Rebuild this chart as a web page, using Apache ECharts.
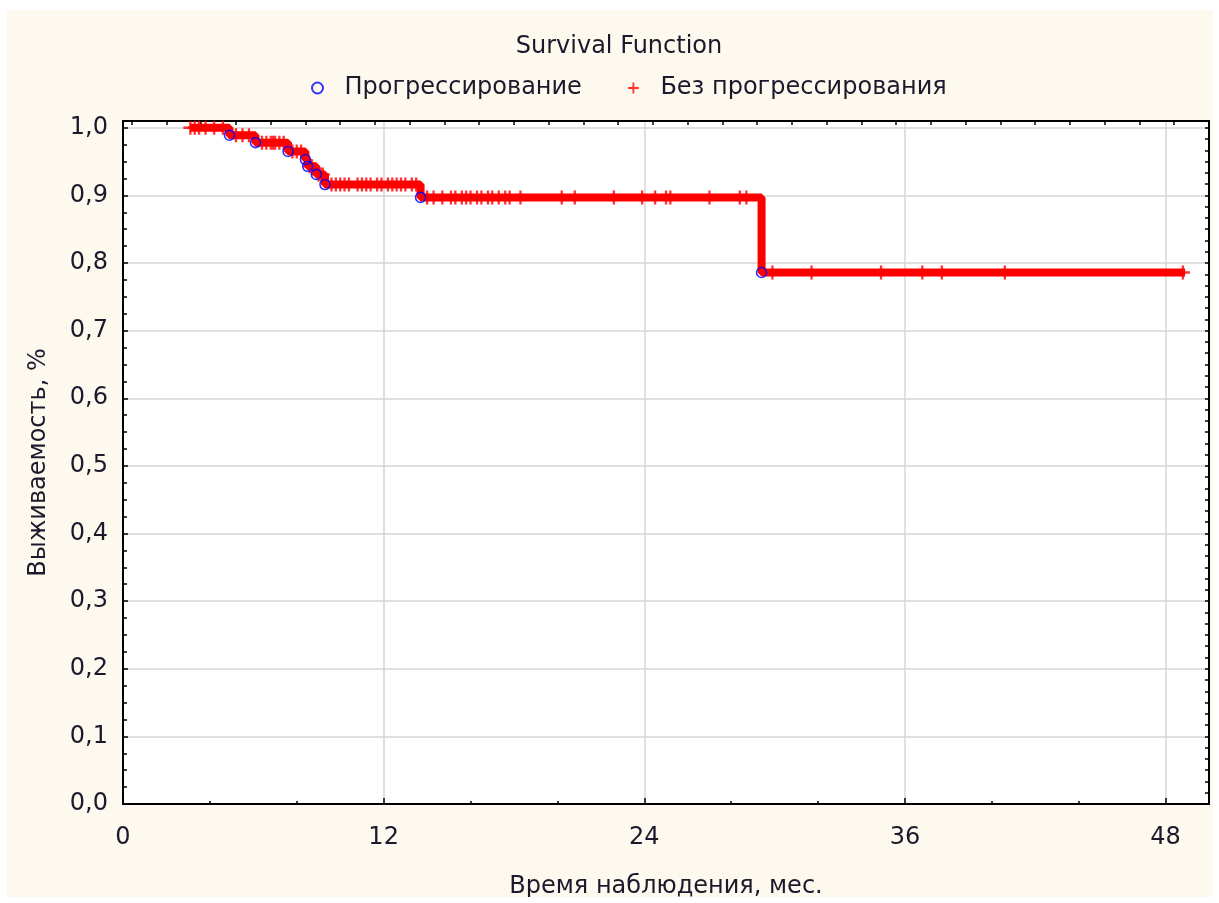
<!DOCTYPE html>
<html>
<head>
<meta charset="utf-8">
<script src="https://cdn.jsdelivr.net/npm/echarts@6/dist/echarts.min.js"></script>
<style>
  html, body { margin: 0; padding: 0; background: #ffffff; }
  #chart { position: absolute; left: 7px; top: 10px; width: 1206px; height: 887px; }
</style>
</head>
<body>
<div id="chart"></div>
<script>
// Kaplan–Meier survival estimate: step times and survival level after each step
const curveTimes = [3.1, 4.9, 6.1, 7.6, 8.4, 8.5, 8.9, 9.3, 13.7, 29.4, 48.9];
const curveSurv  = [1.0, 0.989, 0.978, 0.965, 0.953, 0.943, 0.931, 0.916, 0.897, 0.786, 0.786];

// Progression events (complete observations)
const eventTimes = [4.9, 6.1, 7.6, 8.4, 8.5, 8.9, 9.3, 13.7, 29.4];

// Censored observations (no progression)
const censorTimes = [
  3.1, 3.3, 3.5, 3.8, 4.2, 4.6,
  5.2, 5.5, 5.8,
  6.4, 6.6, 6.8, 6.9, 7.0, 7.2, 7.4,
  7.8, 8.0, 8.2,
  8.6, 8.7, 9.0, 9.1, 9.2,
  9.6, 9.8, 10.0, 10.2, 10.4, 10.8, 11.0, 11.2, 11.4, 11.7, 11.9, 12.2, 12.4, 12.6, 12.8, 13.0, 13.3, 13.5,
  14.0, 14.3, 14.7, 15.1, 15.3, 15.6, 15.8, 16.0, 16.3, 16.5, 16.8, 17.0, 17.3, 17.6, 17.8, 18.3,
  20.2, 20.8, 22.6, 23.9, 24.5, 25.0, 25.2, 27.0, 28.4, 28.7,
  29.9, 31.7, 34.9, 36.8, 37.7, 40.6, 48.8
];

const xTicks = [0, 12, 24, 36, 48];
const yTicks = [0, 0.1, 0.2, 0.3, 0.4, 0.5, 0.6, 0.7, 0.8, 0.9, 1.0];

// survival level of the step function at time t
function survAt(t) {
  let s = curveSurv[0];
  for (let i = 0; i < curveTimes.length; i++) {
    if (curveTimes[i] <= t) s = curveSurv[i];
  }
  return s;
}

const curveData = curveTimes.map((t, i) => [t, curveSurv[i]]);
const eventData = eventTimes.map(t => [t, survAt(t)]);
const censorData = censorTimes.map(t => [t, survAt(t)]);

const plusPath = 'path://M5,0L7,0L7,12L5,12ZM0,5L12,5L12,7L0,7Z';
const textColor = '#1a1a2c';
const fontFamily = '"DejaVu Sans", sans-serif';
const fontSize = 24;

// tick marks along the top and right frame
const topTicks = [];
for (let v = 0.4; v < 50; v += 1.6) topTicks.push(+v.toFixed(2));
const rightTicks = [];
for (let k = 1; k < 61; k++) rightTicks.push(+(k / 60).toFixed(4));

const chart = echarts.init(document.getElementById('chart'));
chart.setOption({
  backgroundColor: '#fdf9ef',
  animation: false,
  textStyle: { fontFamily: fontFamily },
  graphic: [{
    type: 'text',
    x: 612,
    y: 37,
    style: {
      text: 'Survival Function',
      font: fontSize + 'px ' + fontFamily,
      fill: textColor,
      textAlign: 'center',
      textVerticalAlign: 'middle'
    }
  }],
  legend: {
    top: 61,
    left: 299,
    itemWidth: 44,
    itemHeight: 11,
    itemGap: 46,
    data: ['Прогрессирование', 'Без прогрессирования'],
    textStyle: { fontSize: fontSize, color: textColor, fontFamily: fontFamily }
  },
  grid: {
    left: 116, top: 111, right: 4, bottom: 93,
    outerBoundsMode: 'none', containLabel: false,
    show: true, backgroundColor: '#ffffff', borderWidth: 0
  },
  xAxis: [{
    type: 'value',
    position: 'bottom',
    min: 0, max: 50, interval: 12,
    name: 'Время наблюдения, мес.',
    nameLocation: 'middle',
    nameGap: 71,
    nameTextStyle: { fontSize: fontSize, color: textColor, fontFamily: fontFamily },
    axisLine: { show: true, onZero: false, lineStyle: { color: '#000', width: 2 } },
    axisTick: { show: true, inside: true, length: 6, lineStyle: { color: '#000', width: 1.5 } },
    minorTick: { show: true, splitNumber: 3, length: 3, lineStyle: { color: '#000', width: 1.5 } },
    axisLabel: {
      fontSize: fontSize, color: textColor, margin: 22,
      formatter: v => (xTicks.indexOf(v) >= 0 ? String(v) : '')
    },
    splitLine: { show: true, lineStyle: { color: '#d6d6d6', width: 1.5 } }
  }, {
    type: 'value',
    position: 'top',
    min: 0, max: 50,
    axisLine: { show: true, onZero: false, lineStyle: { color: '#000', width: 2 } },
    axisTick: { show: true, inside: true, length: 4, customValues: topTicks, lineStyle: { color: '#000', width: 1.5 } },
    axisLabel: { show: false },
    splitLine: { show: false }
  }],
  yAxis: [{
    type: 'value',
    position: 'left',
    min: 0, max: 1.01, interval: 0.1,
    name: 'Выживаемость, %',
    nameLocation: 'middle',
    nameGap: 72,
    nameTextStyle: { fontSize: fontSize, color: textColor, fontFamily: fontFamily },
    axisLine: { show: true, onZero: false, lineStyle: { color: '#000', width: 2 } },
    axisTick: { show: true, inside: true, length: 5, lineStyle: { color: '#000', width: 1.5 } },
    minorTick: { show: true, splitNumber: 4, length: 4, lineStyle: { color: '#000', width: 1.5 } },
    axisLabel: {
      fontSize: fontSize, color: textColor, margin: 15,
      formatter: v => {
        const hit = yTicks.find(t => Math.abs(t - v) < 1e-6);
        return hit === undefined ? '' : hit.toFixed(1).replace('.', ',');
      }
    },
    splitLine: { show: true, lineStyle: { color: '#d6d6d6', width: 1.5 } }
  }, {
    type: 'value',
    position: 'right',
    min: 0, max: 1.01,
    axisLine: { show: true, onZero: false, lineStyle: { color: '#000', width: 2 } },
    axisTick: { show: true, inside: true, length: 4, customValues: rightTicks, lineStyle: { color: '#000', width: 1.5 } },
    axisLabel: { show: false },
    splitLine: { show: false }
  }],
  series: [{
    name: 'curve',
    type: 'line',
    step: 'end',
    data: curveData,
    showSymbol: false,
    lineStyle: { color: '#ff0000', width: 8 },
    z: 2
  }, {
    name: 'Без прогрессирования',
    type: 'scatter',
    data: censorData,
    symbol: plusPath,
    symbolSize: 14,
    itemStyle: { color: '#ff0000' },
    z: 3
  }, {
    name: 'Прогрессирование',
    type: 'scatter',
    data: eventData,
    symbol: 'circle',
    symbolSize: 10,
    itemStyle: { color: 'rgba(0,0,0,0)', borderColor: '#0000ff', borderWidth: 1.6 },
    z: 4
  }]
});
</script>
</body>
</html>
